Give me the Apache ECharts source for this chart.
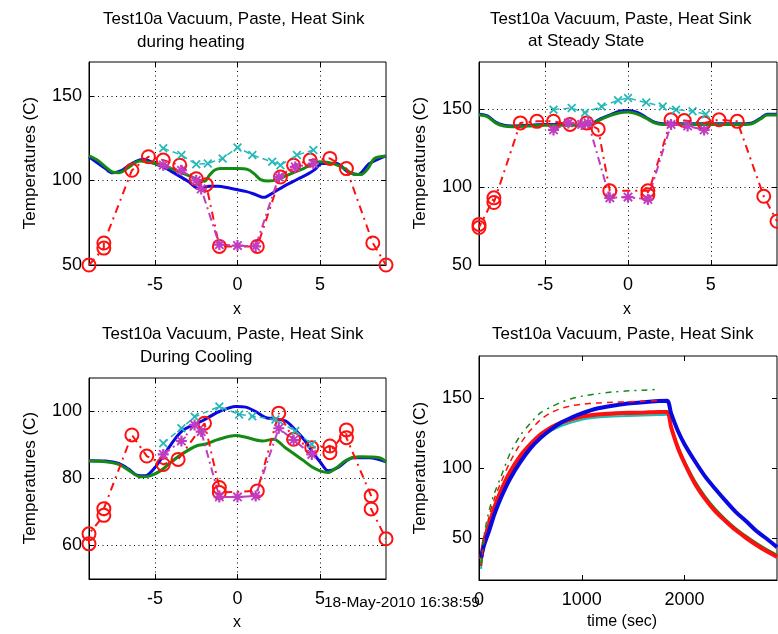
<!DOCTYPE html>
<html><head><meta charset="utf-8">
<script src="https://cdn.jsdelivr.net/npm/echarts@6/dist/echarts.min.js"></script>
<style>html,body{margin:0;padding:0;background:#fff}#c{width:778px;height:634px}</style>
</head><body><div id="c"></div>
<script>
// ---------------- DATA ----------------
// Profiles along x: [x, temperature]
const heatBlue = [[-9,114],[-8,107],[-7.6,104.5],[-7,106],[-6.4,110],[-5.7,112.5],[-5,110],[-4.3,107],[-3.6,103],[-3,99.5],[-2.3,95],[-1.7,96.5],[-1.2,96.5],[-0.5,95.5],[0,94.5],[0.5,93.5],[1,92],[1.6,90],[2.2,93],[2.8,96.5],[3.3,99],[3.8,101.5],[4.3,104],[4.7,106.5],[5.1,110],[6,110],[6.7,105],[7.3,103.5],[8,110],[9,114.5]];
const heatGreen = [[-9,114.5],[-8.5,112],[-8,108],[-7.6,105],[-7.2,104.5],[-6.7,107],[-6.2,110.5],[-5.9,111.5],[-5,110],[-4,107],[-3,103],[-2.4,100.5],[-2,99.5],[-1.7,103],[-1.4,106],[-1,107],[0,107],[0.6,106.5],[1,104],[1.4,100.5],[1.9,99.7],[2.4,100.5],[3,103],[4,107],[5,111],[5.8,110],[6.5,107],[7.1,103.5],[7.5,103.5],[7.9,107],[8.3,113],[9,114.5]];
const heatCyan = [[-4.5,119],[-3.4,115],[-2.5,109.5],[-1.8,110],[-0.9,113],[0,119.5],[0.9,115],[2.1,111],[2.6,109],[3.6,115],[4.6,118]];
const heatMagenta = [[-4.5,109],[-3.4,106],[-2.5,100],[-2.2,95],[-1.1,62],[0,61.5],[1.1,61],[2.5,102],[3.5,108],[4.6,110]];
const heatRed = [[-9,50],[-8.1,60],[-8.1,63],[-6.4,106],[-5.4,114],[-4.5,112],[-3.5,109],[-2.5,101],[-1.9,97.5],[-1.1,61],[1.2,61],[2.6,102],[3.4,109],[4.4,112],[5.6,113],[6.6,107],[8.2,63],[9,50]];

const steadyBlue = [[-9,146.5],[-8.5,145.5],[-8,141.5],[-7.5,139.5],[-7,139],[-6,139.5],[-5,140],[-4,140],[-3,140],[-2.2,140.5],[-1.7,143.5],[-1,146.5],[-0.5,148.5],[0,149],[0.6,147.5],[1.1,144.5],[1.6,141.5],[2.1,140.5],[3,140.5],[4,140.5],[5,140.5],[6,140.5],[7,140.5],[7.5,141],[8,144],[8.4,146.5],[9,146.5]];
const steadyGreen = [[-9,146],[-8.5,145],[-8,141],[-7.5,139],[-7,138.5],[-6,139],[-5,139.5],[-4,139.5],[-3,139.5],[-2.2,140],[-1.7,143],[-1,146],[-0.5,147.5],[0,148],[0.6,146.5],[1.1,144],[1.6,141],[2.1,140],[3,140],[4,140],[5,140],[6,140],[7,140],[7.5,140.5],[8,143.5],[8.4,146],[9,146]];
const steadyCyan = [[-4.5,149.5],[-3.4,150.5],[-2.6,147.5],[-1.6,151.5],[-0.6,155.5],[0,157],[1.1,154],[2.1,151.5],[2.9,149.5],[3.9,148.5],[4.7,146.5]];
const steadyMagenta = [[-4.5,136.5],[-3.6,141],[-2.8,140],[-2.4,141],[-1.1,93],[0,93.5],[1.2,92],[2.6,140],[3.6,139],[4.6,136.5]];
const steadyRed = [[-9,76],[-9,74],[-8.1,93],[-8.1,90],[-6.5,141],[-5.5,142],[-4.5,142],[-3.5,140],[-2.5,141],[-1.8,137],[-1.1,97.5],[1.2,97.5],[1.2,95],[2.6,143],[3.4,142.5],[4.6,141],[5.5,143],[6.6,142],[8.2,94],[9,78]];

const coolBlue = [[-9,85.3],[-8,85.2],[-7.2,84.5],[-6.6,82.8],[-6.1,81],[-5.6,80.8],[-5,83.3],[-4.4,87.5],[-3.4,94],[-2.1,97.3],[-1.1,100],[-0.1,101.5],[0.5,101.3],[1.1,100],[1.7,98.2],[2.9,97.2],[3.5,94.5],[4.1,91.2],[4.6,87.5],[5,85],[5.5,82.3],[6.1,83.3],[7,86.2],[8,86.2],[9,85]];
const coolGreen = [[-9,85.2],[-8,85],[-7.2,84.2],[-6.6,82.5],[-5.9,80.5],[-5.3,80.8],[-4.6,82.5],[-4,85],[-3.3,87.5],[-2.5,89.7],[-1.9,90.3],[-1.2,91.6],[-0.1,92.8],[0.5,92.3],[1.5,91.2],[2.2,91.7],[2.9,89.2],[3.9,85.7],[4.5,83.5],[5,82.3],[5.5,81.8],[6,83.2],[6.6,85.5],[7.4,86.5],[8.6,86.2],[9,85]];
const coolCyan = [[-4.5,90.5],[-3.4,95],[-2.6,98.4],[-1.1,101.5],[0.1,99.1],[0.9,98.6],[2.3,97.6],[3.5,94.2],[4.5,90.2]];
const coolMagenta = [[-4.5,87.2],[-3.4,91.2],[-2.6,96],[-2.2,94],[-1.1,74.5],[0,74.5],[1.1,74.8],[2.5,95],[3.4,91.5],[4.5,87.2]];
const coolRed = [[-9,60.5],[-9,63.5],[-8.1,69],[-8.1,71],[-6.4,93],[-5.5,86.7],[-4.5,84.2],[-3.6,85.7],[-2,96.5],[-1.1,77.3],[-1.1,75.8],[1.2,76.3],[2.5,99.5],[3.4,91.7],[4.5,89.2],[5.6,89.7],[5.6,87.7],[6.6,94.5],[6.6,92.2],[8.1,74.8],[8.1,70.9],[9,62]];

// Time histories
const timeSec   = [20,50,100,150,215,300,400,500,600,700,800,900,1000,1150,1300,1450,1600,1750,1830,1870,1935,2000,2100,2200,2300,2400,2500,2600,2700,2800,2900];
const blueUpper = [36,45,55.5,67,79,92,104,114,121.5,127.5,132.5,136,139,142.5,144.5,146,147,147.8,148,139,126.6,117,105,94,85,76.5,68.5,62,55,49.5,43.5];
const redLower  = [35,48,60,72,84,97,108.5,117,124,129,132.5,135,136.8,138.2,139,139.4,139.6,140,140,129,114.5,103.5,89,78,69,62,55.5,50,45,40.5,36.5];
const greenLower= [30,50,62,73,85,97.5,108,116,123,128,131.5,134,136,137.5,138.2,138.6,139,139.3,139.3,130,116,105,91,80,71,63.5,57,51.5,46.5,42,38];
const cyanLower = [28,46,58,70,82,95,106,114.5,121.5,126.5,130,132.5,134.5,136,136.8,137.2,137.5,137.8,138,129,115,104,90,79,70,62.5,56,50.5,45.5,41,37];
const greenUpper= [32,52,70,82,94,110,123,132,139.5,143.5,147,149.5,151.3,153,154.3,155.1,155.6,156.2,null,null,null,null,null,null,null,null,null,null,null,null,null];
const redUpper  = [30,48,66,78,90,104,117,127,134.5,139.5,142.5,144.5,145.5,146.5,147,147.3,147.6,148,null,null,null,null,null,null,null,null,null,null,null,null,null];

const profileTicksX = [-5,0,5];
const ticksY12 = [50,100,150];
const ticksY3 = [60,80,100];
const ticksX4 = [0,1000,2000];
const ticksY4 = [50,100,150];

// ---------------- CHART ----------------
const FONT = '"Liberation Sans", Arial, Helvetica, sans-serif';
const chart = echarts.init(document.getElementById('c'), null, {renderer:'canvas'});

const grids = [
  {left:89, top:62, width:297, height:203},
  {left:479, top:62, width:298, height:203},
  {left:89, top:378, width:297, height:201},
  {left:479, top:356, width:298, height:224}
].map(g => Object.assign({show:true, borderColor:'#000', borderWidth:1, backgroundColor:'transparent', containLabel:false}, g));

function axis(kind, gi, min, max, ticks, showGrid) {
  return {
    type:'value', gridIndex:gi, min:min, max:max,
    axisLine:{show:true, onZero:false, lineStyle:{color:'#000', width:1}},
    axisTick:{show:true, inside:true, length:5, customValues:ticks, lineStyle:{color:'#000', width:1}},
    axisLabel:{show:true, customValues:ticks, color:'#000', fontSize:18, fontFamily:FONT, margin: kind==='x' ? 11 : 7,
      formatter: v => String(v)},
    splitLine:{show:showGrid, lineStyle:{color:'#000', width:1, type:[1,3.5]}}
  };
}
function mirror(kind, gi, min, max, ticks) {
  return {
    type:'value', gridIndex:gi, min:min, max:max, position: kind==='x' ? 'top' : 'right',
    axisLine:{show:false, onZero:false},
    axisTick:{show:true, inside:true, length:5, customValues:ticks, lineStyle:{color:'#000', width:1}},
    axisLabel:{show:false}, splitLine:{show:false}
  };
}

const xAxes = [
  axis('x',0,-9,9,profileTicksX,true),
  axis('x',1,-9,9,profileTicksX,true),
  axis('x',2,-9,9,profileTicksX,true),
  axis('x',3,0,2900,ticksX4,false),
  mirror('x',0,-9,9,profileTicksX),
  mirror('x',1,-9,9,profileTicksX),
  mirror('x',2,-9,9,profileTicksX),
  mirror('x',3,0,2900,ticksX4)
];
const yAxes = [
  axis('y',0,50,170,ticksY12,true),
  axis('y',1,50,180,ticksY12,true),
  axis('y',2,50,110,ticksY3,true),
  axis('y',3,20,180,ticksY4,false),
  mirror('y',0,50,170,ticksY12),
  mirror('y',1,50,180,ticksY12),
  mirror('y',2,50,110,ticksY3),
  mirror('y',3,20,180,ticksY4)
];

const XMARK = 'path://M0,1.4L1.4,0L5,3.6L8.6,0L10,1.4L6.4,5L10,8.6L8.6,10L5,6.4L1.4,10L0,8.6L3.6,5Z';
const STAR = 'path://M4,0H6V4H10V6H6V10H4V6H0V4H4Z M0.6,1.8L1.8,0.6L9.4,8.2L8.2,9.4Z M8.2,0.6L9.4,1.8L1.8,9.4L0.6,8.2Z';

const C = {blue:'#0a0ae0', green:'#138a13', cyan:'#26b8b8', magenta:'#c03cc0', red:'#ff1010'};

function solid(gi, data, color, w) {
  return {type:'line', xAxisIndex:gi, yAxisIndex:gi, data:data, symbol:'none', smooth:0.3,
    lineStyle:{color:color, width:w}, itemStyle:{color:color}, silent:true};
}
function cyanS(gi, data) {
  return {type:'line', xAxisIndex:gi, yAxisIndex:gi, data:data, symbol:XMARK, symbolSize:9, showAllSymbol:true,
    lineStyle:{color:C.cyan, width:1.5, type:[6,4]}, itemStyle:{color:C.cyan}, clip:false};
}
function magS(gi, data) {
  return {type:'line', xAxisIndex:gi, yAxisIndex:gi, data:data, symbol:STAR, symbolSize:11, showAllSymbol:true,
    lineStyle:{color:C.magenta, width:2, type:[8,4,2,4]}, itemStyle:{color:C.magenta}, clip:false};
}
function redS(gi, data) {
  return {type:'line', xAxisIndex:gi, yAxisIndex:gi, data:data, symbol:'circle', symbolSize:13, showAllSymbol:true,
    lineStyle:{color:C.red, width:2, type:[8,5,2,5]}, itemStyle:{color:'rgba(0,0,0,0)', borderColor:C.red, borderWidth:2}, clip:false};
}
function ts(values) { return timeSec.map((t,i) => [t, values[i]]); }

const series = [
  solid(0, heatBlue, C.blue, 3), solid(0, heatGreen, C.green, 3), redS(0, heatRed), cyanS(0, heatCyan), magS(0, heatMagenta),
  solid(1, steadyBlue, C.blue, 3), solid(1, steadyGreen, C.green, 3), redS(1, steadyRed), cyanS(1, steadyCyan), magS(1, steadyMagenta),
  solid(2, coolBlue, C.blue, 3), solid(2, coolGreen, C.green, 3), redS(2, coolRed), cyanS(2, coolCyan), magS(2, coolMagenta),
  solid(3, ts(cyanLower), C.cyan, 2),
  solid(3, ts(greenLower), C.green, 2),
  solid(3, ts(redLower), C.red, 4),
  solid(3, ts(blueUpper), C.blue, 4),
  Object.assign(solid(3, ts(redUpper), C.red, 1.5), {lineStyle:{color:C.red, width:1.5, type:[6,5]}}),
  Object.assign(solid(3, ts(greenUpper), C.green, 1.5), {lineStyle:{color:C.green, width:1.5, type:[6,5,2,5]}})
];

function txt(x, y, s, size, align, rot) {
  return {type:'text', x:x, y:y, rotation: rot || 0, silent:true, z:100,
    style:{text:s, fill:'#000', font: size + 'px ' + FONT, textAlign: align || 'left', textVerticalAlign:'middle'}};
}
const graphics = [
  txt(103, 19, 'Test10a Vacuum, Paste, Heat Sink', 17), txt(137, 42, 'during heating', 17),
  txt(490, 19, 'Test10a Vacuum, Paste, Heat Sink', 17), txt(528, 41, 'at Steady State', 17),
  txt(102, 334, 'Test10a Vacuum, Paste, Heat Sink', 17), txt(140, 357, 'During Cooling', 17),
  txt(492, 334, 'Test10a Vacuum, Paste, Heat Sink', 17),
  txt(237, 310, 'x', 16, 'center'), txt(627, 310, 'x', 16, 'center'),
  txt(237, 623, 'x', 16, 'center'), txt(622, 622, 'time (sec)', 16, 'center'),
  txt(30, 163, 'Temperatures (C)', 17, 'center', Math.PI/2),
  txt(420, 163, 'Temperatures (C)', 17, 'center', Math.PI/2),
  txt(30, 478, 'Temperatures (C)', 17, 'center', Math.PI/2),
  txt(420, 468, 'Temperatures (C)', 17, 'center', Math.PI/2),
  txt(324, 603, '18-May-2010 16:38:59', 15.5)
];

chart.setOption({
  animation:false,
  backgroundColor:'#fff',
  grid:grids, xAxis:xAxes, yAxis:yAxes, series:series,
  graphic:graphics
});
</script></body></html>
